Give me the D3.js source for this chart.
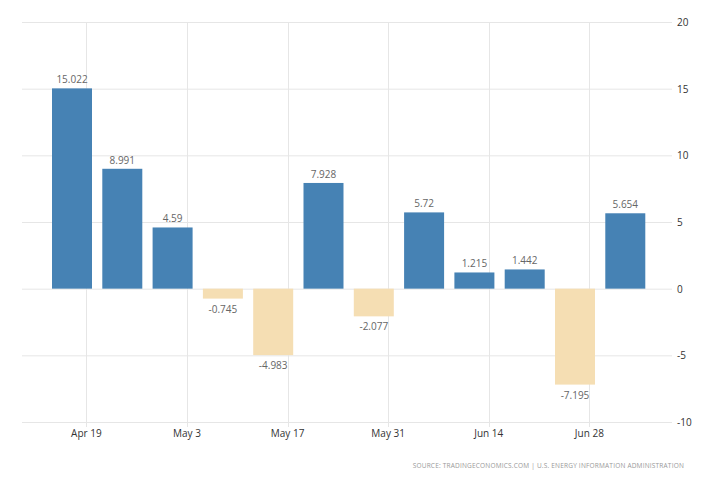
<!DOCTYPE html>
<html>
<head>
<meta charset="utf-8">
<script src="https://cdn.jsdelivr.net/npm/d3@7"></script>
<style>
body { margin: 0; background: #fff; }
text { font-family: "Open Sans", "DejaVu Sans", sans-serif; }
</style>
</head>
<body>
<div id="chart"></div>
<script>
const width = 728;
const height = 485;

const dates = ["2020-04-17", "2020-04-24", "2020-05-01", "2020-05-08", "2020-05-15", "2020-05-22",
    "2020-05-29", "2020-06-05", "2020-06-12", "2020-06-19", "2020-06-26", "2020-07-03"];
const values = [15.022, 8.991, 4.59, -0.745, -4.983, 7.928, -2.077, 5.72, 1.215, 1.442, -7.195, 5.654];
const tickDates = ["2020-04-19", "2020-05-03", "2020-05-17", "2020-05-31", "2020-06-14", "2020-06-28"];
const yTicks = [-10, -5, 0, 5, 10, 15, 20];

const parse = d3.timeParse("%Y-%m-%d %H");
const day = s => parse(s + " 00");
const data = dates.map((d, i) => ({ date: day(d), value: values[i] }));

const margin = { top: 22, right: 56, bottom: 63, left: 22 };

const svg = d3.select("#chart")
    .append("svg")
    .attr("width", width)
    .attr("height", height);

const x = d3.scaleTime()
    .domain([parse("2020-04-10 01"), parse("2020-07-09 12")])
    .range([margin.left, width - margin.right]);

const y = d3.scaleLinear()
    .domain([-10, 20])
    .range([height - margin.bottom, margin.top]);

// grid
svg.append("g")
    .selectAll("line")
    .data(yTicks)
    .enter()
    .append("line")
    .attr("x1", margin.left)
    .attr("x2", width - margin.right)
    .attr("y1", d => y(d) + 0.5)
    .attr("y2", d => y(d) + 0.5)
    .attr("stroke", "#e6e6e6");

svg.append("g")
    .selectAll("line")
    .data(tickDates.map(day))
    .enter()
    .append("line")
    .attr("x1", d => Math.round(x(d)) + 0.5)
    .attr("x2", d => Math.round(x(d)) + 0.5)
    .attr("y1", margin.top)
    .attr("y2", height - margin.bottom + 5)
    .attr("stroke", "#e6e6e6");

// bars
const barW = 40;
svg.append("g")
    .selectAll("rect")
    .data(data)
    .enter()
    .append("rect")
    .attr("x", d => x(d.date) - barW / 2)
    .attr("y", d => y(Math.max(0, d.value)))
    .attr("width", barW)
    .attr("height", d => Math.abs(y(d.value) - y(0)))
    .attr("fill", d => d.value >= 0 ? "#4682b4" : "#f5deb3");

// value labels
svg.append("g")
    .selectAll("text")
    .data(data)
    .enter()
    .append("text")
    .attr("x", d => x(d.date))
    .attr("y", d => d.value >= 0 ? y(d.value) - 5 : y(d.value) + 14)
    .attr("text-anchor", "middle")
    .attr("font-size", 10)
    .attr("fill", "#666")
    .text(d => d.value);

// right axis
svg.append("g")
    .selectAll("text")
    .data(yTicks)
    .enter()
    .append("text")
    .attr("x", width - margin.right + 5)
    .attr("y", d => y(d) + 4)
    .attr("font-size", 10)
    .attr("fill", "#333")
    .text(d => d);

// x axis labels
const fmt = d3.timeFormat("%b %-d");
svg.append("g")
    .selectAll("text")
    .data(tickDates.map(day))
    .enter()
    .append("text")
    .attr("x", d => x(d))
    .attr("y", height - margin.bottom + 15)
    .attr("text-anchor", "middle")
    .attr("font-size", 10)
    .attr("fill", "#333")
    .text(d => fmt(d));

// source
svg.append("text")
    .attr("x", width - 44)
    .attr("y", 468)
    .attr("text-anchor", "end")
    .attr("font-size", 6.5)
    .attr("letter-spacing", 0.2)
    .attr("fill", "#999")
    .text("SOURCE: TRADINGECONOMICS.COM  |  U.S. ENERGY INFORMATION ADMINISTRATION");
</script>
</body>
</html>
